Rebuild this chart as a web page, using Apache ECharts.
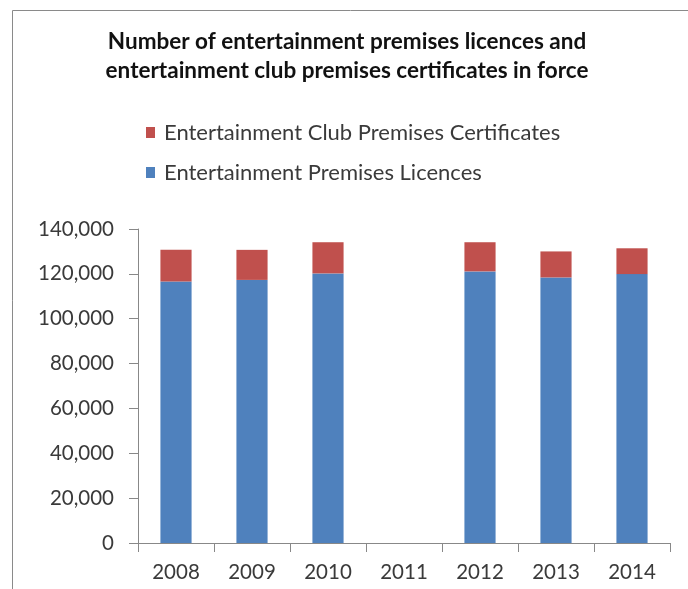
<!DOCTYPE html>
<html>
<head>
<meta charset="utf-8">
<title>Entertainment premises licences and club premises certificates</title>
<script src="https://cdn.jsdelivr.net/npm/echarts@6/dist/echarts.min.js"></script>
<style>
  html, body { margin: 0; padding: 0; background: #fff; }
  #chart { width: 688px; height: 589px; }
</style>
</head>
<body>
<div id="chart"></div>
<script>
// Years on the category axis (no return recorded for 2011)
const years = ['2008', '2009', '2010', '2011', '2012', '2013', '2014'];

// Entertainment premises licences in force
const premisesLicences = [116600, 117300, 120200, null, 121100, 118400, 119900];

// Entertainment club premises certificates in force
const clubCertificates = [14100, 13400, 13900, null, 13000, 11600, 11500];

// Value axis ticks
const yTicks = [0, 20000, 40000, 60000, 80000, 100000, 120000, 140000];

const FONT = 'Lato, "Open Sans", sans-serif';

const chart = echarts.init(document.getElementById('chart'), null, { renderer: 'canvas' });

chart.setOption({
  backgroundColor: '#ffffff',
  animation: false,
  graphic: [{
    type: 'rect',
    left: 10,
    top: 8,
    silent: true,
    shape: { width: 676, height: 620 },
    style: { fill: 'none', stroke: '#8a8a8a', lineWidth: 1 }
  }],
  title: {
    text: 'Number of entertainment premises licences and\nentertainment club premises certificates in force',
    left: 347,
    textAlign: 'center',
    top: 27,
    padding: 0,
    textStyle: {
      fontFamily: FONT,
      fontSize: 22.5,
      fontWeight: 'bold',
      color: '#111111',
      lineHeight: 29
    }
  },
  legend: {
    orient: 'vertical',
    left: 146,
    top: 121.5,
    padding: 0,
    itemWidth: 9,
    itemHeight: 11,
    itemGap: 18,
    icon: 'rect',
    data: ['Entertainment Club Premises Certificates', 'Entertainment Premises Licences'],
    textStyle: {
      fontFamily: FONT,
      fontSize: 22,
      color: '#3a3a3a',
      lineHeight: 22,
      padding: [0, 0, 0, 4]
    }
  },
  grid: {
    left: 138,
    right: 18,
    top: 229,
    bottom: 46,
    containLabel: false
  },
  xAxis: {
    type: 'category',
    data: years,
    boundaryGap: true,
    axisLine: { show: true, lineStyle: { color: '#888888', width: 1 } },
    axisTick: { show: true, length: 9, alignWithLabel: false, lineStyle: { color: '#888888' } },
    axisLabel: {
      fontFamily: FONT,
      fontSize: 20.5,
      color: '#3a3a3a',
      margin: 19,
      interval: 0
    }
  },
  yAxis: {
    type: 'value',
    min: yTicks[0],
    max: yTicks[yTicks.length - 1],
    interval: yTicks[1] - yTicks[0],
    splitLine: { show: false },
    axisLine: { show: true, lineStyle: { color: '#888888', width: 1 } },
    axisTick: { show: true, length: 9, lineStyle: { color: '#888888' } },
    axisLabel: {
      fontFamily: FONT,
      fontSize: 20.5,
      color: '#3a3a3a',
      margin: 24,
      formatter: v => v.toLocaleString('en-GB')
    }
  },
  series: [
    {
      name: 'Entertainment Premises Licences',
      type: 'bar',
      stack: 'total',
      data: premisesLicences,
      barCategoryGap: '59%',
      itemStyle: { color: '#4F81BD' }
    },
    {
      name: 'Entertainment Club Premises Certificates',
      type: 'bar',
      stack: 'total',
      data: clubCertificates,
      barCategoryGap: '59%',
      itemStyle: { color: '#C0504D' }
    }
  ]
});
</script>
</body>
</html>
